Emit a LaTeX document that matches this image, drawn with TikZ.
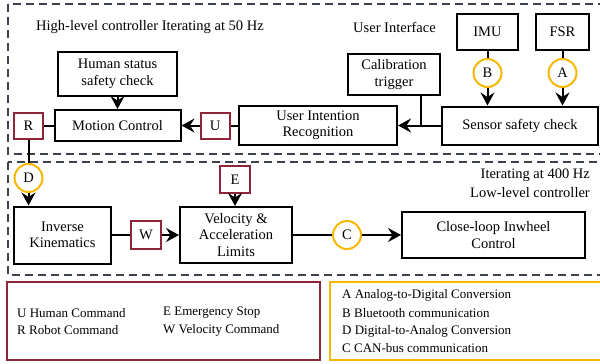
\documentclass[tikz,border=0pt]{standalone}
\usepackage{fontspec}
\setmainfont{Liberation Serif}
\usetikzlibrary{arrows.meta}
\definecolor{maroon}{RGB}{140,38,56}
\definecolor{gold}{RGB}{248,183,0}
\definecolor{dashgray}{RGB}{60,66,78}
\begin{document}
\begin{tikzpicture}[x=1pt,y=-1pt,
  mainfont/.style={font=\fontsize{14.5}{16.5}\selectfont},
  blk/.style={draw=black,line width=2pt,inner sep=0pt,align=center,mainfont},
  rbox/.style={draw=maroon,line width=2pt,inner sep=0pt,minimum width=29pt,minimum height=26pt,mainfont},
  ycirc/.style={circle,draw=gold,line width=2pt,inner sep=0pt,minimum size=28pt,mainfont},
  conn/.style={line width=2pt},
  arr/.style={conn,-{Stealth[length=13pt,width=14pt,inset=4.5pt]}},
  dbox/.style={draw=dashgray,line width=1.5pt,dash pattern=on 8pt off 5pt},
  lbl/.style={mainfont,inner sep=0pt},
  leg/.style={font=\fontsize{13}{17}\selectfont,inner sep=0pt,anchor=west}
]
\useasboundingbox (0,0) rectangle (600,364);
\clip (0,0) rectangle (600,364);

% dashed frames
\draw[dbox] (8,4) rectangle (612,154);
\draw[dbox] (8,162) rectangle (612,275);

% titles
\node[lbl,anchor=west] (t1) at (36,27) {High-level controller Iterating at 50 Hz};
\node[lbl,anchor=west] (t2) at (353,27) {User Interface};
\node[lbl,anchor=east,align=right,font=\fontsize{14.5}{19}\selectfont] (t3) at (590,183) {Iterating at 400 Hz\\Low-level controller};

% top blocks
\node[blk,minimum width=119pt,minimum height=44pt] (hs) at (117.5,74) {Human status\\safety check};
\node[blk,minimum width=126pt,minimum height=31pt] (mc) at (117.5,125.5) {Motion Control};
\node[rbox] (R) at (28.5,125.5) {R};
\node[rbox] (U) at (215,125.5) {U};
\node[blk,minimum width=158pt,minimum height=39pt] (uir) at (318,125.5) {User Intention\\Recognition};
\node[blk,minimum width=92pt,minimum height=41pt] (cal) at (394,74.5) {Calibration\\trigger};
\node[blk,minimum width=156pt,minimum height=38pt] (ssc) at (520,125.5) {Sensor safety check};
\node[blk,minimum width=61pt,minimum height=36pt] (imu) at (487.5,32) {IMU};
\node[blk,minimum width=53pt,minimum height=36pt] (fsr) at (562.5,32) {FSR};
\node[ycirc] (B) at (487.5,73) {B};
\node[ycirc] (A) at (562.5,73) {A};
\coordinate (j) at (421,125.5);

% bottom blocks
\node[ycirc] (D) at (28.5,178) {D};
\node[blk,minimum width=97pt,minimum height=57pt] (ik) at (62.5,235) {Inverse\\Kinematics};
\node[rbox,minimum width=30pt,minimum height=28pt] (W) at (146,235) {W};
\node[blk,minimum width=112pt,minimum height=56pt] (vel) at (236,235) {Velocity \&\\Acceleration\\Limits};
\node[rbox,minimum width=30pt,minimum height=27pt] (E) at (235,179.5) {E};
\node[ycirc] (C) at (347,235) {C};
\node[blk,minimum width=183pt,minimum height=46pt] (cl) at (493.5,235) {Close-loop Inwheel\\Control};

% connectors top
\draw[conn] (fsr.south) -- (A.north);
\draw[arr] (A.south) -- (A.south |- ssc.north);
\draw[conn] (imu.south) -- (B.north);
\draw[arr] (B.south) -- (B.south |- ssc.north);
\draw[arr] (ssc.west) -- (uir.east);
\draw[conn] (cal.south -| j) -- (j);
\draw[conn] (uir.west) -- (U.east);
\draw[arr] (U.west) -- (mc.east);
\draw[arr] (hs.south) -- (mc.north);
\draw[conn] (mc.west) -- (R.east);
\draw[conn] (R.south) -- (D.north);
\draw[arr] (D.south) -- (D.south |- ik.north);

% connectors bottom
\draw[conn] (ik.east) -- (W.west);
\draw[arr] (W.east) -- (vel.west);
\draw[arr] (E.south) -- (E.south |- vel.north);
\draw[conn] (vel.east) -- (C.west);
\draw[arr] (C.east) -- (cl.west);

% legends
\draw[maroon,line width=2pt] (7,282) rectangle (320,360);
\draw[gold,line width=2pt] (330,282) rectangle (612,360);
\node[leg] (lu) at (17,313) {U Human Command};
\node[leg] (lr) at (17,330) {R Robot Command};
\node[leg] (le) at (163,313) {E Emergency Stop};
\node[leg] (lw) at (163,330) {W Velocity Command};
\node[leg] (la) at (342,295) {A Analog-to-Digital Conversion};
\node[leg] (lb) at (342,313) {B Bluetooth communication};
\node[leg] (ld) at (342,331) {D Digital-to-Analog Conversion};
\node[leg] (lc) at (342,348) {C CAN-bus communication};
\end{tikzpicture}
\end{document}
